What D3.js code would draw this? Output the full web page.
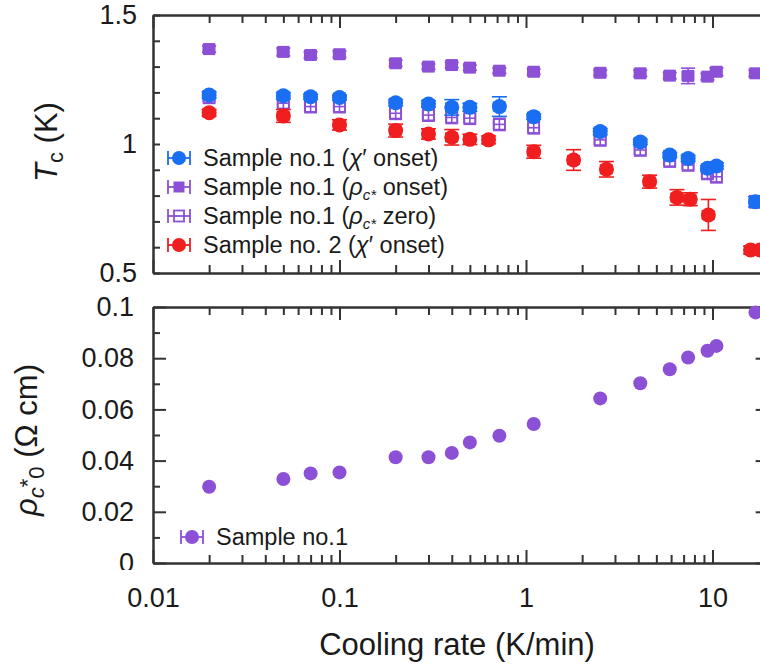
<!DOCTYPE html>
<html><head><meta charset="utf-8">
<script src="https://cdn.jsdelivr.net/npm/d3@7"></script>
<style>body{margin:0;background:#fff}svg{display:block}</style>
</head><body>
<svg id="c" width="760" height="666"></svg>
<script>
// ---------------- data ----------------
const rates1 = [0.02, 0.05, 0.07, 0.1, 0.2, 0.3, 0.4, 0.5, 0.72, 1.1, 2.5, 4.1, 5.9, 7.4, 9.4, 10.5, 17];
const tcChiOnset1 = [1.19, 1.187, 1.183, 1.18, 1.16, 1.155, 1.142, 1.142, 1.145, 1.106, 1.048, 1.008, 0.957, 0.944, 0.906, 0.915, 0.776];
const errChiOnset1 = [0.012, 0.012, 0.01, 0.01, 0.012, 0.012, 0.03, 0.015, 0.038, 0.01, 0.012, 0.01, 0.01, 0.012, 0.01, 0.012, 0.02];
const tcRhoOnset1 = [1.368, 1.357, 1.345, 1.348, 1.313, 1.30, 1.306, 1.296, 1.284, 1.28, 1.276, 1.274, 1.265, 1.264, 1.261, 1.28, 1.274];
const errRhoOnset1 = [0.012, 0.015, 0.012, 0.012, 0.012, 0.01, 0.01, 0.01, 0.01, 0.01, 0.01, 0.012, 0.012, 0.03, 0.012, 0.015, 0.012];
const tcRhoZero1 = [1.181, 1.158, 1.145, 1.145, 1.119, 1.112, 1.103, 1.10, 1.076, 1.063, 1.016, 0.977, 0.934, 0.919, 0.886, 0.873, 0.776];
const errRhoZero1 = [0.02, 0.02, 0.02, 0.02, 0.02, 0.02, 0.02, 0.02, 0.02, 0.02, 0.02, 0.02, 0.02, 0.02, 0.02, 0.02, 0.02];
const rates2 = [0.02, 0.05, 0.1, 0.2, 0.3, 0.4, 0.5, 0.63, 1.1, 1.8, 2.7, 4.6, 6.45, 7.6, 9.5, 16, 18];
const tcChiOnset2 = [1.121, 1.109, 1.074, 1.052, 1.039, 1.026, 1.018, 1.016, 0.97, 0.938, 0.902, 0.854, 0.793, 0.786, 0.725, 0.589, 0.589];
const errChiOnset2 = [0.012, 0.025, 0.02, 0.025, 0.02, 0.03, 0.02, 0.015, 0.025, 0.04, 0.03, 0.025, 0.03, 0.025, 0.06, 0.015, 0.015];
const rateErrFrac = 0.07;
const rhoC0 = [0.0298, 0.0328, 0.035, 0.0354, 0.0413, 0.0413, 0.043, 0.0471, 0.0497, 0.0543, 0.0643, 0.0702, 0.0757, 0.0803, 0.0829, 0.0848, 0.0979];

const xTickValues = [0.01, 0.1, 1, 10];
const xTickLabels = ["0.01", "0.1", "1", "10"];
const topYTickValues = [0.5, 1, 1.5];
const topYTickLabels = ["0.5", "1", "1.5"];
const botYTickValues = [0, 0.02, 0.04, 0.06, 0.08, 0.1];
const botYTickLabels = ["0", "0.02", "0.04", "0.06", "0.08", "0.1"];

// ---------------- setup ----------------
const FONT = "'Liberation Sans', Arial, Helvetica, sans-serif";
const TXT = "#1a1a1a", AX = "#333";
const BLUE = "#1a6ef2", PURPLE = "#8b50d6", RED = "#f01e1e";
const svg = d3.select("#c").style("font-family", FONT);

const x = d3.scaleLog().domain([0.01, 20]).range([153, 153 + Math.log10(2000) * 186.5]);
const yT = d3.scaleLinear().domain([0.5, 1.5]).range([273, 15]);
const yB = d3.scaleLinear().domain([0, 0.1]).range([563, 307]);

const xMinor = [];
xTickValues.forEach(d => { for (let k = 2; k <= 9; k++) { const v = +(d * k).toPrecision(3); if (v <= 20) xMinor.push(v); } });
xMinor.push(20);

function styleAxis(g) {
  g.selectAll("text").remove();
  g.selectAll("path,line").attr("stroke", AX).attr("stroke-width", 2);
}

function frame(yScale, yMajor, yMinor, yMajLen, yMinLen) {
  const [x0, x1] = x.range();
  const [yb, yt] = yScale.range();
  const g = svg.append("g");
  g.append("g").attr("transform", `translate(0,${yb})`)
    .call(d3.axisTop(x).tickValues(xTickValues).tickSize(13).tickSizeOuter(0)).call(styleAxis);
  g.append("g").attr("transform", `translate(0,${yb})`)
    .call(d3.axisTop(x).tickValues(xMinor).tickSize(8).tickSizeOuter(0)).call(styleAxis);
  g.append("g").attr("transform", `translate(0,${yt})`)
    .call(d3.axisBottom(x).tickValues(xTickValues).tickSize(13).tickSizeOuter(0)).call(styleAxis);
  g.append("g").attr("transform", `translate(0,${yt})`)
    .call(d3.axisBottom(x).tickValues(xMinor).tickSize(8).tickSizeOuter(0)).call(styleAxis);
  g.append("g").attr("transform", `translate(${x0},0)`)
    .call(d3.axisRight(yScale).tickValues(yMajor).tickSize(yMajLen).tickSizeOuter(0)).call(styleAxis);
  g.append("g").attr("transform", `translate(${x0},0)`)
    .call(d3.axisRight(yScale).tickValues(yMinor).tickSize(yMinLen).tickSizeOuter(0)).call(styleAxis);
  g.append("g").attr("transform", `translate(${x1},0)`)
    .call(d3.axisLeft(yScale).tickValues(yMajor).tickSize(yMajLen).tickSizeOuter(0)).call(styleAxis);
  g.append("g").attr("transform", `translate(${x1},0)`)
    .call(d3.axisLeft(yScale).tickValues(yMinor).tickSize(yMinLen).tickSizeOuter(0)).call(styleAxis);
}

const topMinor = d3.range(0.6, 1.5, 0.1).map(v => +v.toFixed(2)).filter(v => v !== 1);
frame(yT, topYTickValues, topMinor, 7, 7);
const botMinor = [0.01, 0.03, 0.05, 0.07, 0.09];
frame(yB, botYTickValues, botMinor, 13, 7);

// ---------------- tick labels ----------------
svg.append("g").attr("transform", `translate(0,${yB.range()[0]})`)
  .call(d3.axisBottom(x).tickValues(xTickValues).tickFormat((d, i) => xTickLabels[i]).tickSize(0).tickPadding(25))
  .call(g => g.select(".domain").remove())
  .call(g => g.selectAll("text").attr("font-size", 27).attr("fill", TXT).attr("font-family", FONT));

svg.append("g").attr("transform", `translate(${x.range()[0]},0)`)
  .call(d3.axisLeft(yT).tickValues(topYTickValues).tickFormat((d, i) => topYTickLabels[i]).tickSize(0).tickPadding(16))
  .call(g => g.select(".domain").remove())
  .call(g => g.selectAll("text").attr("font-size", 27).attr("fill", TXT).attr("font-family", FONT));

svg.append("defs").append("clipPath").attr("id", "botLabClip")
  .append("rect").attr("x", 0).attr("y", 280).attr("width", 153).attr("height", 290);
svg.append("g").attr("clip-path", "url(#botLabClip)")
  .append("g").attr("transform", `translate(${x.range()[0]},0)`)
  .call(d3.axisLeft(yB).tickValues(botYTickValues).tickFormat((d, i) => botYTickLabels[i]).tickSize(0).tickPadding(19))
  .call(g => g.select(".domain").remove())
  .call(g => g.selectAll("text").attr("font-size", 27).attr("fill", TXT).attr("font-family", FONT));

// ---------------- titles ----------------
svg.append("text").attr("x", 457).attr("y", 655).attr("text-anchor", "middle")
  .attr("font-size", 31).attr("fill", TXT).text("Cooling rate (K/min)");

const t1 = svg.append("text").attr("transform", "translate(57,142) rotate(-90)")
  .attr("text-anchor", "middle").attr("font-size", 31).attr("fill", TXT);
t1.append("tspan").attr("font-style", "italic").text("T");
t1.append("tspan").attr("font-size", 22).attr("dy", 6).text("c");
t1.append("tspan").attr("dy", -6).text(" (K)");

const t2 = svg.append("text").attr("transform", "translate(37,440) rotate(-90)")
  .attr("text-anchor", "middle").attr("font-size", 31).attr("fill", TXT);
t2.append("tspan").attr("font-style", "italic").text("ρ");
t2.append("tspan").attr("font-size", 22).attr("font-style", "italic").attr("dy", 7).text("c");
t2.append("tspan").attr("font-size", 22).attr("dy", -9).text("*");
t2.append("tspan").attr("font-size", 22).attr("dy", 9).text("0");
t2.append("tspan").attr("dy", -7).text(" (Ω cm)");

// ---------------- markers ----------------
function errBars(g, xs, ys, errs, yScale, color, capW) {
  xs.forEach((r, i) => {
    const px = x(r), py = yScale(ys[i]);
    const y0 = yScale(ys[i] - errs[i]), y1 = yScale(ys[i] + errs[i]);
    const xa = x(r * (1 - rateErrFrac)), xb = x(r * (1 + rateErrFrac));
    const s = g.append("g").attr("stroke", color).attr("stroke-width", 1.6);
    s.append("line").attr("x1", px).attr("x2", px).attr("y1", y0).attr("y2", y1);
    s.append("line").attr("x1", px - capW / 2).attr("x2", px + capW / 2).attr("y1", y0).attr("y2", y0);
    s.append("line").attr("x1", px - capW / 2).attr("x2", px + capW / 2).attr("y1", y1).attr("y2", y1);
    s.append("line").attr("x1", xa).attr("x2", xb).attr("y1", py).attr("y2", py);
    s.append("line").attr("x1", xa).attr("x2", xa).attr("y1", py - 5).attr("y2", py + 5);
    s.append("line").attr("x1", xb).attr("x2", xb).attr("y1", py - 5).attr("y2", py + 5);
  });
}

const plot = svg.append("g");
errBars(plot, rates1, tcRhoOnset1, errRhoOnset1, yT, PURPLE, 14);
plot.selectAll(null).data(rates1).join("rect")
  .attr("x", d => x(d) - 6).attr("y", (d, i) => yT(tcRhoOnset1[i]) - 6)
  .attr("width", 12).attr("height", 12).attr("fill", PURPLE);
errBars(plot, rates1, tcRhoZero1, errRhoZero1, yT, PURPLE, 12);
plot.selectAll(null).data(rates1).join("rect")
  .attr("x", d => x(d) - 5.5).attr("y", (d, i) => yT(tcRhoZero1[i]) - 6)
  .attr("width", 11).attr("height", 12).attr("fill", "none").attr("stroke", PURPLE).attr("stroke-width", 1.8);
errBars(plot, rates1, tcChiOnset1, errChiOnset1, yT, BLUE, 15);
plot.selectAll(null).data(rates1).join("circle")
  .attr("cx", d => x(d)).attr("cy", (d, i) => yT(tcChiOnset1[i])).attr("r", 7.5).attr("fill", BLUE);
errBars(plot, rates2, tcChiOnset2, errChiOnset2, yT, RED, 15);
plot.selectAll(null).data(rates2).join("circle")
  .attr("cx", d => x(d)).attr("cy", (d, i) => yT(tcChiOnset2[i])).attr("r", 7.5).attr("fill", RED);

svg.append("g").selectAll("circle").data(rates1).join("circle")
  .attr("cx", d => x(d)).attr("cy", (d, i) => yB(rhoC0[i])).attr("r", 7).attr("fill", PURPLE);

// ---------------- legends ----------------
function legendMarker(g, cx, cy, color, kind) {
  const s = g.append("g").attr("stroke", color).attr("stroke-width", 1.8);
  s.append("line").attr("x1", cx - 11).attr("x2", cx + 11).attr("y1", cy).attr("y2", cy);
  s.append("line").attr("x1", cx - 11).attr("x2", cx - 11).attr("y1", cy - 7).attr("y2", cy + 7);
  s.append("line").attr("x1", cx + 11).attr("x2", cx + 11).attr("y1", cy - 7).attr("y2", cy + 7);
  if (kind === "circle") g.append("circle").attr("cx", cx).attr("cy", cy).attr("r", 7).attr("fill", color);
  if (kind === "square") g.append("rect").attr("x", cx - 5.5).attr("y", cy - 5.5).attr("width", 11).attr("height", 11).attr("fill", color);
  if (kind === "open") g.append("rect").attr("x", cx - 5).attr("y", cy - 5.5).attr("width", 10).attr("height", 11)
    .attr("fill", "none").attr("stroke", color).attr("stroke-width", 1.8);
}

const leg = svg.append("g");
const legRows = [
  { y: 158, color: BLUE, kind: "circle", pre: "Sample no.1 (", sym: "χ", sub: "", post: "′ onset)" },
  { y: 187, color: PURPLE, kind: "square", pre: "Sample no.1 (", sym: "ρ", sub: "c*", post: " onset)" },
  { y: 216, color: PURPLE, kind: "open", pre: "Sample no.1 (", sym: "ρ", sub: "c*", post: " zero)" },
  { y: 245, color: RED, kind: "circle", pre: "Sample no. 2 (", sym: "χ", sub: "", post: "′ onset)" }
];
legRows.forEach(r => {
  legendMarker(leg, 179, r.y, r.color, r.kind);
  const t = leg.append("text").attr("x", 203).attr("y", r.y + 8).attr("font-size", 23.5).attr("fill", TXT);
  t.append("tspan").text(r.pre);
  t.append("tspan").attr("font-style", "italic").text(r.sym);
  if (r.sub) {
    t.append("tspan").attr("font-style", "italic").attr("font-size", 15).attr("dy", 5).text(r.sub);
    t.append("tspan").attr("dy", -5).text(r.post);
  } else {
    t.append("tspan").text(r.post);
  }
});

legendMarker(leg, 192, 537, PURPLE, "circle");
leg.append("text").attr("x", 216).attr("y", 545).attr("font-size", 23.5).attr("fill", TXT).text("Sample no.1");
</script>
</body></html>
